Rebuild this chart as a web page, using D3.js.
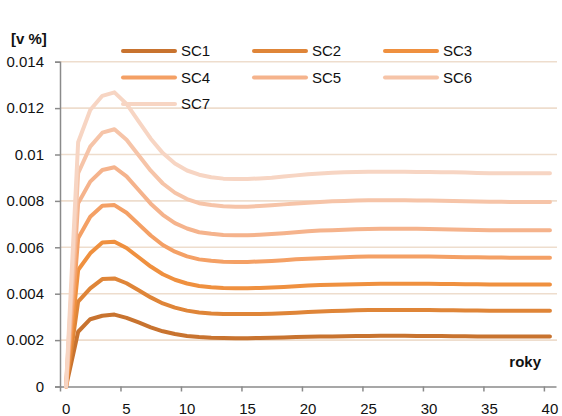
<!DOCTYPE html>
<html><head><meta charset="utf-8">
<script src="https://cdn.jsdelivr.net/npm/d3@7"></script>
<style>
html,body{margin:0;padding:0;background:#fff;}
svg{display:block;font-family:"Liberation Sans",Arial,sans-serif;}
</style></head>
<body><svg id="c" width="562" height="416"></svg>
<script>
const years = d3.range(0, 41);
const seriesNames = ["SC1","SC2","SC3","SC4","SC5","SC6","SC7"];
const colors = ["#c8732f","#df8538","#ef903f","#f4a065","#f5b38c","#f6c4a8","#f7d5c3"];
const yTicks = [0,0.002,0.004,0.006,0.008,0.01,0.012,0.014];
const yTickLabels = ["0","0.002","0.004","0.006","0.008","0.01","0.012","0.014"];
const xTicks = [0,5,10,15,20,25,30,35,40];

const SC1 = [0,.00236,.00290,.00305,.00310, .00296,.00276,.00255,.00238,.00226, .00218,.00213,.00210,.00209,.00208, .00208,.00209,.00210,.00211,.00213, .00214,.00215,.00216,.00217,.00218, .00218,.00219,.00219,.00219,.00218, .00218,.00218,.00217,.00217,.00216, .00216,.00215,.00215,.00215,.00215, .00215];
const SC2 = [0,.00366,.00423,.00463,.00466, .00445,.00415,.00384,.00358,.00340, .00327,.00319,.00315,.00313,.00312, .00312,.00313,.00314,.00316,.00318, .00321,.00323,.00325,.00327,.00329, .00330,.00330,.00330,.00330,.00330, .00330,.00329,.00329,.00328,.00328, .00327,.00327,.00327,.00327,.00327, .00327];
const SC3 = [0,.00502,.00574,.00621,.00624, .00597,.00557,.00517,.00484,.00460, .00444,.00433,.00428,.00425,.00424, .00424,.00425,.00427,.00429,.00432, .00435,.00437,.00439,.00440,.00441, .00442,.00443,.00443,.00443,.00443, .00443,.00442,.00442,.00441,.00441, .00440,.00440,.00440,.00440,.00440, .00440];
const SC4 = [0,.00639,.00732,.00779,.00782, .00749,.00700,.00651,.00610,.00581, .00561,.00548,.00542,.00538,.00537, .00537,.00539,.00541,.00544,.00548, .00551,.00553,.00555,.00557,.00559, .00560,.00560,.00560,.00560,.00560, .00560,.00559,.00558,.00557,.00557, .00556,.00556,.00555,.00555,.00555, .00555];
const SC5 = [0,.00790,.00883,.00933,.00945, .00906,.00847,.00788,.00740,.00704, .00681,.00665,.00658,.00653,.00652, .00652,.00654,.00657,.00661,.00665, .00669,.00672,.00674,.00676,.00678, .00679,.00680,.00680,.00680,.00680, .00679,.00678,.00677,.00676,.00675, .00674,.00674,.00673,.00673,.00673, .00673];
const SC6 = [0,.00919,.01034,.01094,.01109, .01064,.00997,.00930,.00875,.00835, .00808,.00790,.00782,.00777,.00775, .00775,.00778,.00781,.00785,.00789, .00792,.00795,.00798,.00800,.00802, .00803,.00803,.00803,.00803,.00802, .00802,.00801,.00800,.00799,.00797, .00796,.00796,.00795,.00795,.00795, .00795];
const SC7 = [0,.01053,.01192,.01253,.01268, .01218,.01143,.01068,.01006,.00961, .00931,.00913,.00902,.00896,.00894, .00894,.00897,.00900,.00905,.00910, .00915,.00918,.00921,.00923,.00925, .00926,.00926,.00926,.00926,.00925, .00925,.00924,.00923,.00922,.00920, .00919,.00919,.00919,.00919,.00919, .00919];
const allSeries = [SC1,SC2,SC3,SC4,SC5,SC6,SC7];

const svg = d3.select("#c");
const x = d3.scaleLinear().domain([-0.5, 40.5]).range([60, 556]);
const y = d3.scaleLinear().domain([0, 0.014]).range([386.5, 61.7]);

// gridlines
svg.append("g").selectAll("line").data(yTicks.filter(d => d > 0)).join("line")
  .attr("x1", 60).attr("x2", 557)
  .attr("y1", d => y(d)).attr("y2", d => y(d))
  .attr("stroke", "#eeddcd").attr("stroke-width", 1.6);

// y axis
const yAxis = svg.append("g").attr("transform", "translate(60,0)")
  .call(d3.axisLeft(y).tickValues(yTicks).tickSize(5).tickFormat((d,i) => yTickLabels[i]));
yAxis.select(".domain").attr("stroke", "#8a8a8a").attr("stroke-width", 1.5);
yAxis.selectAll(".tick line").attr("stroke", "#8a8a8a").attr("stroke-width", 1.5);
yAxis.selectAll(".tick text").attr("x", -16).attr("font-size", 15).attr("fill", "#111")
  .attr("font-family", "Liberation Sans, Arial, sans-serif");

// x axis ticks at category boundaries
const xAxis = svg.append("g").attr("transform", "translate(0,386.5)")
  .call(d3.axisBottom(x).tickValues(xTicks.map(d => d - 0.5)).tickSize(5).tickSizeOuter(0).tickFormat(""));
xAxis.select(".domain").attr("stroke", "#8a8a8a").attr("stroke-width", 1.5);
xAxis.selectAll(".tick line").attr("stroke", "#8a8a8a").attr("stroke-width", 1.5);
svg.append("g").selectAll("text").data(xTicks).join("text")
  .attr("x", d => x(d)).attr("y", 414).attr("text-anchor", "middle")
  .attr("font-size", 15).attr("fill", "#111").text(d => d);

// lines
const line = d3.line().x((d, i) => x(years[i])).y(d => y(d));
svg.append("g").selectAll("path").data(allSeries).join("path")
  .attr("d", line).attr("fill", "none")
  .attr("stroke", (d, i) => colors[i]).attr("stroke-width", 4)
  .attr("stroke-linejoin", "round").attr("stroke-linecap", "round");

// legend
const legX = [123, 254, 385], legY = [51, 77.5, 104];
const leg = svg.append("g").selectAll("g").data(seriesNames).join("g")
  .attr("transform", (d, i) => `translate(${legX[i % 3]},${legY[Math.floor(i / 3)]})`);
leg.append("line").attr("x1", 0).attr("x2", 52).attr("y1", 0).attr("y2", 0)
  .attr("stroke", (d, i) => colors[i]).attr("stroke-width", 4).attr("stroke-linecap", "round");
leg.append("text").attr("x", 58).attr("y", 0).attr("dy", "0.36em")
  .attr("font-size", 15).attr("fill", "#111").text(d => d);

// axis titles
svg.append("text").attr("x", 11).attr("y", 44).attr("font-size", 15).attr("font-weight", "bold")
  .attr("fill", "#111").text("[v %]");
svg.append("text").attr("x", 541).attr("y", 367).attr("text-anchor", "end").attr("font-size", 15)
  .attr("font-weight", "bold").attr("fill", "#111").text("roky");
</script></body></html>
